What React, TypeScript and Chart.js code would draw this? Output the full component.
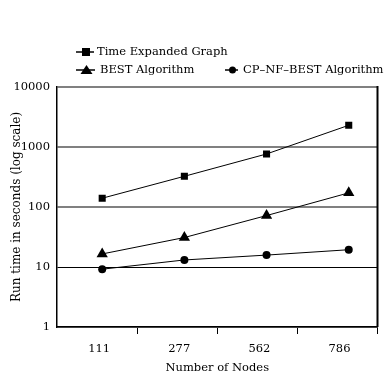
import React, { useEffect, useRef } from "react";
import { Chart, registerables } from "chart.js";

Chart.register(...registerables);

const nodeCounts = ["111", "277", "562", "786"];
const timeExpandedGraph = [140, 325, 765, 2300];
const bestAlgorithm = [16.5, 31, 72, 172];
const cpNfBestAlgorithm = [9.2, 13.1, 15.8, 19.4];
const yTickValues = [1, 10, 100, 1000, 10000];

const seriesNames = ["Time Expanded Graph", "BEST Algorithm", "CP\u2013NF\u2013BEST Algorithm"];

const FONT = "DejaVu Serif";

// x runs over category indices; the axis extends a little beyond the first and last index
const X_MIN = -0.55;
const X_MAX = 3.35;
const BIN = (X_MAX - X_MIN) / nodeCounts.length;

const toPoints = (values: number[]) => values.map((y, i) => ({ x: i, y }));

// Legend markers and labels laid out in two rows above the plot, plus the right frame edge.
const legendAndFrame = {
  id: "legendAndFrame",
  afterDraw(chart: any) {
    const ctx = chart.ctx as CanvasRenderingContext2D;
    const { right, top, bottom } = chart.chartArea;
    ctx.save();
    ctx.strokeStyle = "#000";
    ctx.lineWidth = 2;
    ctx.beginPath();
    ctx.moveTo(right, top - 1);
    ctx.lineTo(right, bottom);
    ctx.stroke();

    const items = [
      { style: "rect", x1: 76, x2: 94, y: 52, tx: 97, text: seriesNames[0] },
      { style: "triangle", x1: 76, x2: 95, y: 70, tx: 100, text: seriesNames[1] },
      { style: "circle", x1: 225, x2: 238, y: 70, tx: 243, text: seriesNames[2] },
    ];
    ctx.font = `11.5px "${FONT}"`;
    ctx.textBaseline = "middle";
    ctx.fillStyle = "#000";
    for (const it of items) {
      ctx.lineWidth = 1.5;
      ctx.beginPath();
      ctx.moveTo(it.x1, it.y);
      ctx.lineTo(it.x2, it.y);
      ctx.stroke();
      const cx = (it.x1 + it.x2) / 2 + 1;
      ctx.beginPath();
      if (it.style === "rect") {
        ctx.rect(cx - 4, it.y - 4, 8, 8);
      } else if (it.style === "triangle") {
        ctx.moveTo(cx, it.y - 5);
        ctx.lineTo(cx + 6, it.y + 4);
        ctx.lineTo(cx - 6, it.y + 4);
        ctx.closePath();
      } else {
        ctx.arc(cx, it.y, 3.5, 0, Math.PI * 2);
      }
      ctx.fill();
      ctx.fillText(it.text, it.tx, it.y);
    }
    ctx.restore();
  },
};

export default function App() {
  const canvasRef = useRef<HTMLCanvasElement | null>(null);

  useEffect(() => {
    if (!canvasRef.current) return;
    const common = {
      borderColor: "#000",
      backgroundColor: "#000",
      borderWidth: 1,
      pointBorderWidth: 0,
      tension: 0,
    };
    const chart = new Chart(canvasRef.current, {
      type: "line",
      data: {
        datasets: [
          { ...common, label: seriesNames[0], data: toPoints(timeExpandedGraph), pointStyle: "rect", pointRadius: 5 },
          { ...common, label: seriesNames[1], data: toPoints(bestAlgorithm), pointStyle: "triangle", pointRadius: 6.5 },
          { ...common, label: seriesNames[2], data: toPoints(cpNfBestAlgorithm), pointStyle: "circle", pointRadius: 4 },
        ],
      },
      options: {
        responsive: false,
        animation: false,
        layout: { padding: { left: 0, right: 5, top: 87, bottom: 0 } },
        plugins: { legend: { display: false }, tooltip: { enabled: false } },
        scales: {
          x: {
            type: "linear",
            min: X_MIN,
            max: X_MAX,
            // tick marks sit on the boundaries between node-count groups
            afterBuildTicks(scale: any) {
              scale.ticks = nodeCounts.map((_, i) => ({ value: X_MIN + BIN * (i + 1) }));
            },
            grid: {
              drawOnChartArea: false,
              drawTicks: true,
              tickLength: 7,
              color: "#000",
              lineWidth: 1,
            },
            border: { color: "#000", width: 1.5 },
            ticks: {
              color: "#000",
              font: { family: FONT, size: 11.5 },
              padding: 8,
              maxRotation: 0,
              autoSkip: false,
              labelOffset: -38,
              callback: (_v: any, i: number) => nodeCounts[i],
            },
            title: {
              display: true,
              text: "Number of Nodes",
              color: "#000",
              font: { family: FONT, size: 11.5 },
              padding: { top: 0, bottom: 0 },
            },
            afterFit(scale: any) {
              scale.height = 48;
              scale.paddingLeft = 0;
              scale.paddingRight = 0;
            },
          },
          y: {
            type: "logarithmic",
            min: 1,
            max: 10000,
            afterBuildTicks(scale: any) {
              scale.ticks = yTickValues.map((v) => ({ value: v }));
            },
            grid: {
              drawTicks: false,
              color: (c: any) => (c.tick && c.tick.value === 10 ? "#000" : "#808080"),
              lineWidth: (c: any) => (c.tick && c.tick.value === 10 ? 1 : 2),
            },
            border: { color: "#000", width: 1.5 },
            ticks: {
              color: "#000",
              font: { family: FONT, size: 11.5 },
              padding: 7,
              callback: (v: any) => String(v),
            },
            title: {
              display: true,
              text: "Run time in seconds (log scale)",
              color: "#000",
              font: { family: FONT, size: 12 },
              padding: { top: 10, bottom: 0 },
            },
            afterFit(scale: any) {
              scale.width = 57;
            },
          },
        },
      },
      plugins: [legendAndFrame],
    });
    return () => chart.destroy();
  }, []);

  return (
    <div style={{ position: "absolute", left: 0, top: 0, width: 384, height: 375, background: "#fff" }}>
      <canvas ref={canvasRef} width={384} height={375} />
    </div>
  );
}
